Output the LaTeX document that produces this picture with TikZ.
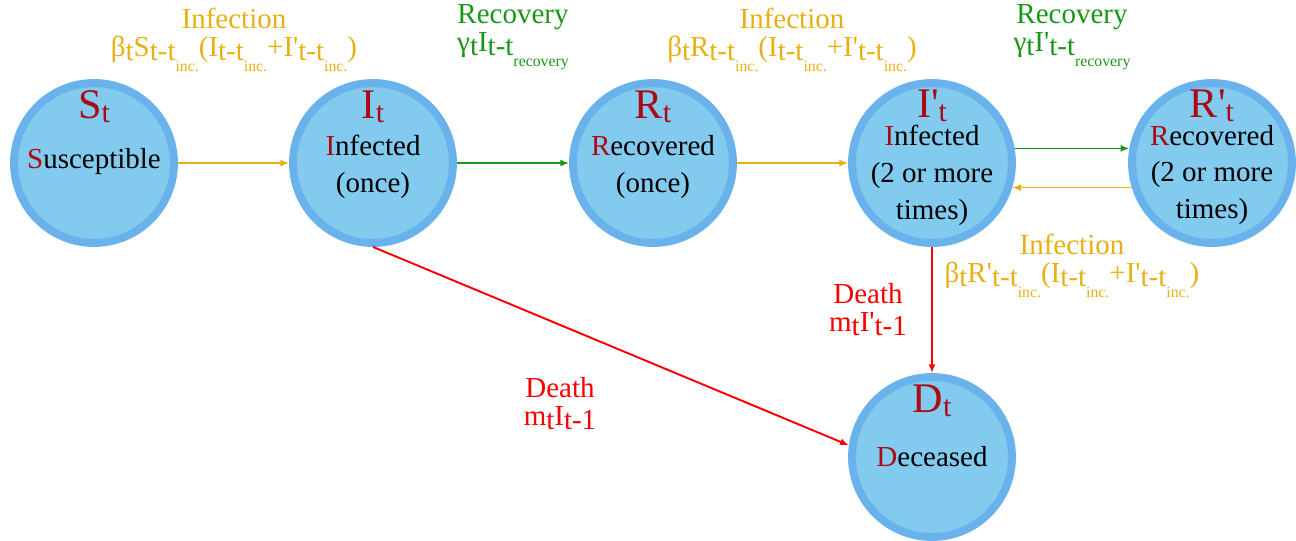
\documentclass[tikz,border=0pt]{standalone}
\usepackage{fontspec}
\setmainfont{Liberation Serif}
\usetikzlibrary{arrows.meta,positioning}

\definecolor{cfill}{RGB}{130,202,238}
\definecolor{cborder}{RGB}{105,178,236}
\definecolor{darkred}{RGB}{170,10,20}
\definecolor{infcol}{RGB}{232,176,20}
\definecolor{reccol}{RGB}{25,150,25}
\definecolor{deathcol}{RGB}{250,0,0}

\newcommand{\dn}[1]{\raisebox{-0.3ex}{#1}}
\newcommand{\inc}{\raisebox{-0.8ex}{\fontsize{9}{9}\selectfont inc.}}
\newcommand{\recv}{\raisebox{-0.8ex}{\fontsize{9}{9}\selectfont recovery}}
\newcommand{\pr}{\textquotesingle}
\newcommand{\hl}[1]{\textcolor{darkred}{#1}}
\newcommand{\ttl}[1]{#1\raisebox{-0.25ex}{\fontsize{17}{17}\selectfont t}}

\tikzset{every picture/.style={line width=0.75pt}}

\begin{document}
\begin{tikzpicture}[x=0.02cm,y=-0.02cm,
		state/.style={circle, draw=cborder, fill=cfill, line width=4.5pt, minimum size=3.2cm},
		title/.style={anchor=base, text=darkred, font=\fontsize{24}{26}\selectfont},
		body/.style={align=center, font=\fontsize{16.5}{21}\selectfont},
		lbl/.style={align=center, inner sep=1pt, font=\fontsize{16.5}{16}\selectfont},
		flow/.style={-{Latex[length=5pt,width=4pt]}, line width=0.85pt}
	]
	\useasboundingbox (0,0) rectangle (1296,541);

	% states
	\node[state] (S) at (94,163) {};
	\node[state] (I) at (373,163) {};
	\node[state] (R) at (653,163) {};
	\node[state] (Ip) at (932,163) {};
	\node[state] (Rp) at (1212,163) {};
	\node[state] (D) at (932,457) {};

	\node[title] (St) at (94,118) {\ttl{S}};
	\node[title] (It) at (373,118) {\ttl{I}};
	\node[title] (Rt) at (653,118) {\ttl{R}};
	\node[title] (Ipt) at (932,117) {\ttl{I\pr}};
	\node[title] (Rpt) at (1212,117) {\ttl{R\pr}};
	\node[title] (Dt) at (932,412) {\ttl{D}};

	\node[body] (Stxt) at (94,162) {\hl{S}usceptible};
	\node[body] (Itxt) at (373,167) {\hl{I}nfected\\(once)};
	\node[body] (Rtxt) at (653,167) {\hl{R}ecovered\\(once)};
	\node[body] (Iptxt) at (932,175) {\hl{I}nfected\\(2 or more\\times)};
	\node[body] (Rptxt) at (1212,175) {\hl{R}ecovered\\(2 or more\\times)};
	\node[body] (Dtxt) at (932,457) {\hl{D}eceased};

	% flows
	\draw[flow, infcol] (S) -- (I);
	\draw[flow, reccol] (I) -- (R);
	\draw[flow, infcol] (R) -- (Ip);
	\draw[flow, reccol] (Ip.10) -- (Rp.170);
	\draw[flow, infcol] (Rp.197) -- (Ip.-17);
	\draw[flow, deathcol, line width=1.1pt] (I.south) -- (D.172);
	\draw[flow, deathcol, line width=1.1pt] (Ip.south) -- (D.north);

	% rates
	\node[lbl, text=infcol] (infS) at (234,40) {Infection\\β\dn{t}S\dn{t-t\inc}(I\dn{t-t\inc}+I\pr\dn{t-t\inc})};
	\node[lbl, text=reccol] (recI) at (513,37) {Recovery\\γ\dn{t}I\dn{t-t\recv}};
	\node[lbl, text=infcol] (infR) at (792,40) {Infection\\β\dn{t}R\dn{t-t\inc}(I\dn{t-t\inc}+I\pr\dn{t-t\inc})};
	\node[lbl, text=reccol] (recIp) at (1072,37) {Recovery\\γ\dn{t}I\pr\dn{t-t\recv}};
	\node[lbl, text=infcol] (infRp) at (1072,266) {Infection\\β\dn{t}R\pr\dn{t-t\inc}(I\dn{t-t\inc}+I\pr\dn{t-t\inc})};
	\node[lbl, text=deathcol] (deathIp) at (868,310) {Death\\m\dn{t}I\pr\dn{t-1}};
	\node[lbl, text=deathcol] (deathI) at (560,404) {Death\\m\dn{t}I\dn{t-1}};
\end{tikzpicture}
\end{document}
